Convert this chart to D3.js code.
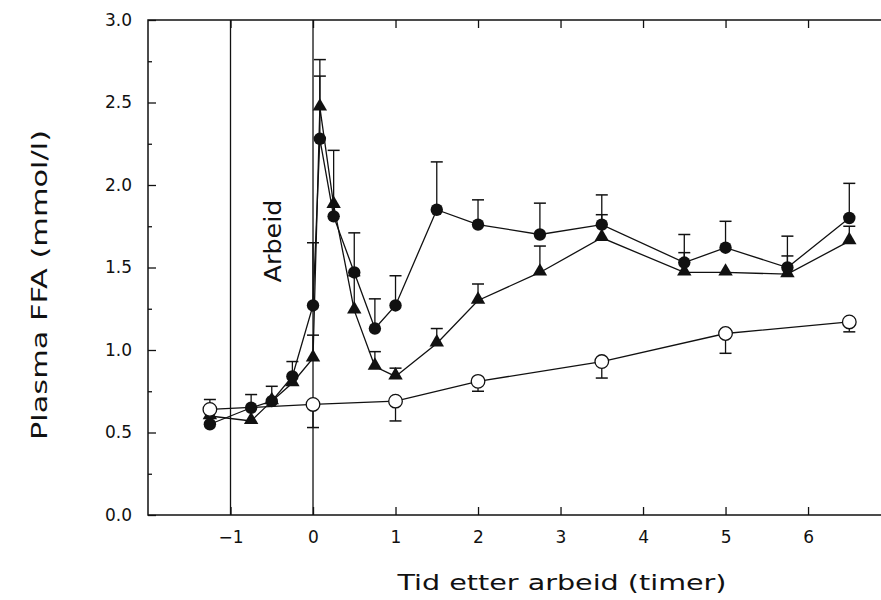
<!DOCTYPE html>
<html>
<head>
<meta charset="utf-8">
<script src="https://cdn.jsdelivr.net/npm/d3@7"></script>
<style>
  body { margin: 0; background: #fff; }
  text { font-family: "DejaVu Sans", sans-serif; fill: #111; }
</style>
</head>
<body>
<svg id="chart" width="881" height="600"></svg>
<script>
// time points (hours after exercise)
const times = [-1.25, -0.75, -0.5, -0.25, 0, 0.083, 0.25, 0.5, 0.75, 1, 1.5, 2, 2.75, 3.5, 4.5, 5, 5.75, 6.5];

// filled circles
const circleValues = [0.55, 0.65, 0.69, 0.84, 1.27, 2.28, 1.81, 1.47, 1.13, 1.27, 1.85, 1.76, 1.70, 1.76, 1.53, 1.62, 1.50, 1.80];
const circleUpper = [null, 0.73, 0.78, 0.93, 1.65, 2.66, 2.21, 1.71, 1.31, 1.45, 2.14, 1.91, 1.89, 1.94, 1.70, 1.78, 1.69, 2.01];

// filled triangles
const triangleValues = [0.60, 0.57, 0.69, 0.80, 0.95, 2.47, 1.88, 1.24, 0.90, 0.84, 1.04, 1.30, 1.47, 1.68, 1.47, 1.47, 1.46, 1.66];
const triangleUpper = [null, null, null, null, 1.09, 2.76, null, 1.45, 0.99, 0.89, 1.13, 1.40, 1.63, 1.82, 1.59, null, 1.57, 1.75];

// open circles (error bars drawn to this value)
const openTimes = [-1.25, 0, 1, 2, 3.5, 5, 6.5];
const openValues = [0.64, 0.67, 0.69, 0.81, 0.93, 1.10, 1.17];
const openError = [0.70, 0.53, 0.57, 0.75, 0.83, 0.98, 1.11];

const xTicks = [-1, 0, 1, 2, 3, 4, 5, 6];
const yTicks = [0, 0.5, 1, 1.5, 2, 2.5, 3];
const yMinorTicks = [0.25, 0.75, 1.25, 1.75, 2.25, 2.75];
const markerLines = [-1, 0];

const svg = d3.select("#chart");
const x = d3.scaleLinear().domain([-2, 6.9]).range([148, 882.3]);
const y = d3.scaleLinear().domain([0, 3]).range([515, 20]);

const stroke = "#111";
const g = svg.append("g");

// frame
g.append("rect")
  .attr("x", x(-2)).attr("y", y(3))
  .attr("width", x(6.9) - x(-2)).attr("height", y(0) - y(3))
  .style("fill", "none").style("stroke", stroke).style("stroke-width", 1.5);

// bottom + top axis ticks
const bottomAxis = d3.axisBottom(x).tickValues(xTicks).tickSize(-8).tickPadding(16)
  .tickFormat(d => d < 0 ? "\u2212" + Math.abs(d) : d);
const bx = g.append("g").attr("transform", `translate(0,${y(0)})`).call(bottomAxis);
bx.select(".domain").remove();
bx.selectAll("text").style("font-size", "17px").style("font-family", "DejaVu Sans").attr("fill", "#111");

const topAxis = d3.axisTop(x).tickValues(xTicks).tickSize(-8).tickFormat("");
const tx = g.append("g").attr("transform", `translate(0,${y(3)})`).call(topAxis);
tx.select(".domain").remove();

// left axis
const leftAxis = d3.axisLeft(y).tickValues(yTicks).tickSize(-8).tickPadding(16).tickFormat(d3.format(".1f"));
const ly = g.append("g").attr("transform", `translate(${x(-2)},0)`).call(leftAxis);
ly.select(".domain").remove();
ly.selectAll("text").style("font-size", "17px").style("font-family", "DejaVu Sans").attr("fill", "#111");

const leftMinor = d3.axisLeft(y).tickValues(yMinorTicks).tickSize(-4).tickFormat("");
const lm = g.append("g").attr("transform", `translate(${x(-2)},0)`).call(leftMinor);
lm.select(".domain").remove();

svg.selectAll(".tick line").style("stroke", stroke).style("stroke-width", 1.3);

// vertical lines at -1 and 0
g.selectAll(".vline").data(markerLines).enter().append("line")
  .attr("x1", d => x(d)).attr("x2", d => x(d))
  .attr("y1", y(0)).attr("y2", y(3))
  .style("stroke", stroke).style("stroke-width", 1.3);

// Arbeid label
g.append("text")
  .attr("transform", `translate(${x(-1) + 50},${241}) rotate(-90)`)
  .attr("text-anchor", "middle")
  .attr("textLength", 83).attr("lengthAdjust", "spacingAndGlyphs")
  .style("font-size", "23px")
  .text("Arbeid");

// axis titles
svg.append("text")
  .attr("x", 562).attr("y", 590)
  .attr("text-anchor", "middle")
  .attr("textLength", 329).attr("lengthAdjust", "spacingAndGlyphs")
  .style("font-size", "21px")
  .text("Tid etter arbeid (timer)");

svg.append("text")
  .attr("transform", "translate(47,285) rotate(-90)")
  .attr("text-anchor", "middle")
  .attr("textLength", 310).attr("lengthAdjust", "spacingAndGlyphs")
  .style("font-size", "21px")
  .text("Plasma FFA (mmol/l)");

// data
const circles = times.map((t, i) => ({ t, v: circleValues[i], e: circleUpper[i] }));
const triangles = times.map((t, i) => ({ t, v: triangleValues[i], e: triangleUpper[i] }));
const opens = openTimes.map((t, i) => ({ t, v: openValues[i], e: openError[i] }));

const line = d3.line().x(d => x(d.t)).y(d => y(d.v));

[triangles, circles, opens].forEach(series => {
  g.append("path").datum(series).attr("d", line)
    .style("fill", "none").style("stroke", stroke).style("stroke-width", 1.3);
});

// error bars
const capHalf = 6;
function errorBars(series) {
  const eg = g.append("g");
  series.filter(d => d.e != null).forEach(d => {
    eg.append("line")
      .attr("x1", x(d.t)).attr("x2", x(d.t))
      .attr("y1", y(d.v)).attr("y2", y(d.e))
      .style("stroke", stroke).style("stroke-width", 1.3);
    eg.append("line")
      .attr("x1", x(d.t) - capHalf).attr("x2", x(d.t) + capHalf)
      .attr("y1", y(d.e)).attr("y2", y(d.e))
      .style("stroke", stroke).style("stroke-width", 1.5);
  });
}
errorBars(triangles);
errorBars(circles);
errorBars(opens);

// markers
g.selectAll(".tri").data(triangles).enter().append("path")
  .attr("d", d3.symbol(d3.symbolTriangle, 90))
  .attr("transform", d => `translate(${x(d.t)},${y(d.v) - 1})`)
  .style("fill", stroke);

g.selectAll(".dot").data(circles).enter().append("circle")
  .attr("cx", d => x(d.t)).attr("cy", d => y(d.v)).attr("r", 6.2)
  .style("fill", stroke);

g.selectAll(".open").data(opens).enter().append("circle")
  .attr("cx", d => x(d.t)).attr("cy", d => y(d.v)).attr("r", 6.8)
  .style("fill", "#fff").style("stroke", stroke).style("stroke-width", 1.3);
</script>
</body>
</html>
